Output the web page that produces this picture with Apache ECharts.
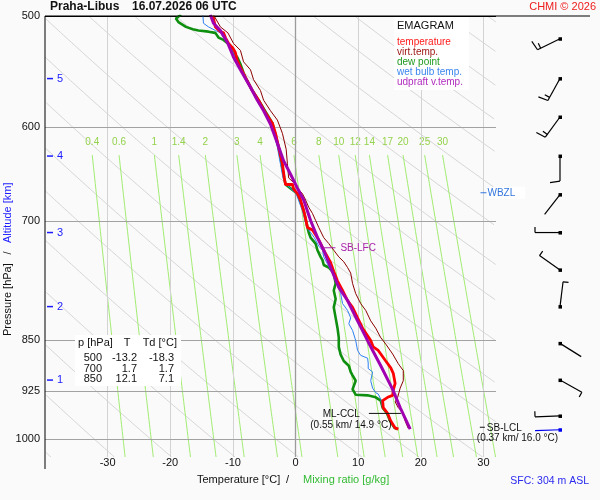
<!DOCTYPE html>
<html lang="en">
<head>
<meta charset="UTF-8">
<title>Emagram Praha-Libus</title>
<script src="https://cdn.jsdelivr.net/npm/echarts@6.0.0/dist/echarts.min.js"></script>
<style>
  body { margin: 0; padding: 0; background: #fafafa; }
  #emagram { width: 600px; height: 500px; }
</style>
</head>
<body>
<div id="emagram"></div>
<script>
// sounding: pressure [hPa] and temperature [°C]
var tempP = [500, 502, 509, 513, 514, 518, 523, 527, 531, 538, 544, 553, 565, 574, 586, 596, 606, 620, 637, 652,
             659, 659, 664, 669, 676, 688, 697, 707, 710, 719, 726, 734, 742, 749, 760, 772, 784, 797, 806, 820,
             834, 851, 860, 865, 880, 890, 898, 913, 923, 931, 934, 939, 950, 959, 971, 982, 984];
var tempT = [-13.2, -13.1, -12.8, -12.0, -11.5, -11.2, -10.7, -10.0, -9.6, -9.3, -8.8, -8.0, -6.9, -5.9, -4.8, -3.7, -3.2, -2.7, -2.1, -1.8,
             -1.6, -0.5, -0.3, 0.3, 0.8, 1.3, 1.6, 1.9, 2.7, 3.5, 4.0, 4.5, 5.1, 5.6, 6.1, 6.7, 7.5, 8.3, 9.1, 9.9,
             10.7, 12.0, 12.4, 13.2, 14.4, 15.2, 15.6, 15.9, 15.6, 15.5, 14.7, 13.9, 14.0, 14.7, 15.2, 15.9, 16.4];

var dewP = [499, 502, 505, 509, 511, 512, 513, 514, 518, 520, 523, 526, 531, 535, 541, 549, 553, 565, 574, 596,
            620, 652, 659, 669, 688, 697, 707, 713, 719, 726, 734, 742, 746, 752, 755, 762, 775, 784, 795, 806,
            820, 834, 847, 860, 871, 880, 887, 896, 901, 909, 922, 930, 931, 934, 939, 950, 959, 971, 982, 984];
var dewT = [-18.3, -19.1, -18.7, -17.5, -16.4, -15.5, -13.9, -12.8, -12.3, -11.5, -10.8, -10.4, -9.9, -9.3, -8.8, -8.3, -8.0, -6.9, -5.9, -3.7,
            -2.7, -1.8, -1.6, 0.3, 1.3, 1.6, 1.9, 2.1, 2.4, 3.2, 3.5, 4.0, 4.3, 4.5, 5.3, 6.1, 6.4, 6.1, 6.4, 6.1,
            6.4, 6.7, 6.9, 6.9, 7.2, 7.7, 8.5, 8.8, 9.1, 9.6, 9.1, 9.6, 11.5, 12.8, 13.6, 13.9, 14.6, 15.1, 15.8, 16.2];

var wetP = [499, 506, 509, 512, 514, 518, 530, 553, 575, 596, 620, 652, 658, 669, 688, 707, 719, 729, 734, 742,
            758, 771, 780, 788, 801, 810, 820, 828, 837, 851, 865, 872, 876, 883, 891, 896, 909, 920, 927, 929,
            937, 950, 959, 971, 982, 984];
var wetT = [-14.8, -14.7, -13.9, -12.8, -12.0, -11.5, -10.0, -8.2, -6.1, -3.9, -2.9, -2.0, -1.6, 0.1, 1.1, 1.8, 3.0, 3.7, 4.3, 4.5,
            5.6, 6.4, 6.9, 7.2, 7.5, 8.3, 8.8, 8.5, 9.1, 9.6, 9.9, 10.4, 11.5, 11.6, 11.6, 12.3, 12.0, 12.3, 12.8, 13.2,
            13.6, 13.9, 14.6, 15.1, 15.8, 16.2];

var virtP = [499, 509, 514, 523, 529, 539, 546, 555, 565, 574, 584, 593, 606, 622, 637, 652, 657, 663, 669, 676,
             684, 691, 699, 707, 719, 726, 734, 742, 748, 755, 762, 775, 788, 801, 810, 824, 834, 847, 856, 870,
             884, 894, 909, 920, 934, 941, 950, 957, 971, 983];
var virtT = [-13.1, -12.0, -10.8, -9.9, -8.8, -8.3, -7.2, -6.7, -5.6, -5.1, -4.0, -2.9, -2.1, -1.5, -1.3, -1.1, -0.3, 0.3, 1.1, 1.6,
             2.1, 2.7, 3.2, 3.7, 4.5, 5.3, 6.1, 6.9, 7.7, 8.3, 8.8, 9.1, 9.6, 10.4, 11.2, 12.0, 12.8, 13.6, 14.4, 15.5,
             16.4, 17.2, 17.2, 16.7, 16.3, 15.9, 16.4, 17.1, 17.5, 18.0];

var updP = [499, 506, 512, 523, 535, 546, 562, 574, 584, 597, 616, 634, 648, 663, 676, 699, 719, 734, 755, 780,
            797, 824, 853, 887, 922, 950, 984];
var updT = [-13.6, -13.1, -12.0, -10.8, -9.9, -8.8, -7.2, -6.1, -5.1, -4.0, -2.9, -1.9, -0.8, 0.3, 1.3, 2.4, 3.5, 4.5, 5.6, 6.9,
            8.3, 9.9, 11.6, 13.6, 15.5, 16.7, 18.3];

// wind every 0.5 km, last one is the surface
var barbP   = [519, 554, 590, 629, 670, 713, 758, 805, 855, 908, 963, 985];
var barbDir = [244, 209, 216, 180, 218, 270, 305, 7, 122, 119, 268, 268];
var barbSpd = [15, 15, 15, 10, 3, 5, 5, 5, 3, 5, 5, 3];

// altitude marks on the left
var altKm = [1, 2, 3, 4, 5];
var altP  = [908, 805, 713, 629, 554];

// levels marked on the diagram
var annText = ['SB-LFC', 'WBZL', 'ML-CCL', 'SB-LCL'];
var annSub  = ['', '', '(0.55 km/ 14.9 °C)', '(0.37 km/ 16.0 °C)'];
var annT    = [5.4, 30.0, 14.9, 29.9];
var annP    = [731, 668, 959, 981];

// table of standard levels
var tabP  = [500, 700, 850];
var tabT  = [-13.2, 1.7, 12.1];
var tabTd = [-18.3, 1.7, 7.1];

// diagram furniture
var pLevels  = [500, 600, 700, 850, 925, 1000];
var isoT     = [-30, -20, -10, 0, 10, 20, 30];
var xTicks   = [-30, -20, -10, 0, 10, 20, 30];
var mixW     = [0.4, 0.6, 1, 1.4, 2, 3, 4, 6, 8, 10, 12, 14, 17, 20, 25, 30];
var adiabatA = [231, 241, 250, 260, 270, 280, 289, 299, 309, 318, 328, 338, 347, 357, 367, 377, 386, 396, 406, 415];

var FONT = '"Liberation Sans", Arial, sans-serif';
var T_MIN = -40, T_MAX = 32, P_TOP = 500, P_BOT = 1030;
var KAPPA = 0.45;          // grey adiabats as drawn on this chart
var MIX_TOP = 628, MIX_LABEL_P = 615;

function pairs(ps, ts) {
  return ps.map(function (p, i) { return [ts[i], p]; });
}

// dew point of a given mixing ratio (g/kg) at pressure p
function mixTd(w, p) {
  var e = w * p / (622 + w);
  var l = Math.log(e / 6.112);
  return 243.5 * l / (17.67 - l);
}

function profile(name, ps, ts, color, width, z) {
  return {
    name: name, type: 'line', data: pairs(ps, ts), symbol: 'none', z: z,
    silent: true, lineStyle: { color: color, width: width }
  };
}

function renderAdiabat(params, api) {
  var A = adiabatA[params.dataIndex];
  var pts = [];
  var lo = Math.log(P_TOP), hi = Math.log(P_BOT);
  for (var lp = lo; lp <= hi + 1e-9; lp += (hi - lo) / 300) {
    var p = Math.exp(lp);
    var t = A * Math.pow(p / 1000, KAPPA) - 273.15;
    if (t >= T_MIN && t <= T_MAX) pts.push(api.coord([t, p]));
  }
  if (pts.length < 2) return null;
  return { type: 'polyline', shape: { points: pts }, style: { stroke: '#d5d5d5', lineWidth: 1, fill: 'none' } };
}

function renderMix(params, api) {
  var w = mixW[params.dataIndex];
  var pts = [];
  for (var p = MIX_TOP; p < P_BOT; p += 6) pts.push(api.coord([mixTd(w, p), p]));
  pts.push(api.coord([mixTd(w, P_BOT), P_BOT]));
  var lab = api.coord([mixTd(w, MIX_TOP), MIX_LABEL_P]);
  return {
    type: 'group', children: [
      { type: 'polyline', shape: { points: pts }, style: { stroke: '#a2ec72', lineWidth: 1, fill: 'none' } },
      { type: 'text', x: lab[0], y: lab[1], style: { text: String(w), fill: '#94d24c', font: '10px ' + FONT, align: 'center', verticalAlign: 'middle' } }
    ]
  };
}

function renderAlt(params, api) {
  var i = params.dataIndex;
  var c = api.coord([T_MIN, altP[i]]);
  return {
    type: 'group', children: [
      { type: 'line', shape: { x1: c[0] + 2, y1: c[1], x2: c[0] + 8, y2: c[1] }, style: { stroke: '#1c1cff', lineWidth: 1.5 } },
      { type: 'text', x: c[0] + 12, y: c[1], style: { text: String(altKm[i]), fill: '#1c1cff', font: '11px ' + FONT, verticalAlign: 'middle' } }
    ]
  };
}

var annLook = {
  'SB-LFC': { color: '#aa22aa', from: -6, to: 6, dx: 11, dy: 0 },
  'WBZL':   { color: '#3377dd', from: -3, to: 3, dx: 4, dy: 0, box: true },
  'ML-CCL': { color: '#111', from: -20, to: 12, dx: -29, dy: 1, align: 'right', subDx: -38, subDy: 12, subAlign: 'center' },
  'SB-LCL': { color: '#111', from: -3, to: 2, dx: 4, dy: 1, subDx: -6, subDy: 11 }
};

function renderAnn(params, api) {
  var i = params.dataIndex;
  var s = annLook[annText[i]];
  var c = api.coord([annT[i], annP[i]]);
  var kids = [
    { type: 'line', shape: { x1: c[0] + s.from, y1: c[1], x2: c[0] + s.to, y2: c[1] }, style: { stroke: s.color, lineWidth: 1 } },
    { type: 'text', x: c[0] + s.dx, y: c[1] + s.dy, style: {
        text: annText[i], fill: s.color, font: '10px ' + FONT, align: s.align || 'left', verticalAlign: 'middle',
        backgroundColor: s.box ? '#fff' : null, padding: s.box ? [1, 10, 1, 0] : 0 } }
  ];
  if (annSub[i]) {
    kids.push({ type: 'text', x: c[0] + s.subDx, y: c[1] + s.subDy, style: {
      text: annSub[i], fill: s.color, font: '10px ' + FONT, align: s.subAlign || 'left', verticalAlign: 'middle' } });
  }
  return { type: 'group', children: kids };
}

function renderBarb(params, api) {
  var i = params.dataIndex;
  var c = api.coord([0, barbP[i]]);
  var col = i === barbP.length - 1 ? '#0000ee' : '#000';
  var a = barbDir[i] * Math.PI / 180;
  var ux = Math.sin(a), uy = -Math.cos(a);   // shaft points where the wind comes from
  var nx = -uy, ny = ux;                      // barbs on the clockwise side
  var L = 25;
  var kids = [{ type: 'line', shape: { x1: c[0], y1: c[1], x2: c[0] + ux * L, y2: c[1] + uy * L }, style: { stroke: col, lineWidth: 1.2 } }];
  var full = Math.floor(barbSpd[i] / 10), half = barbSpd[i] % 10 >= 5;
  var pos = L;
  for (var k = 0; k < full; k++) {
    var bx = c[0] + ux * pos, by = c[1] + uy * pos;
    kids.push({ type: 'line', shape: { x1: bx, y1: by, x2: bx + nx * 10 + ux * 1.5, y2: by + ny * 10 + uy * 1.5 }, style: { stroke: col, lineWidth: 1.2 } });
    pos -= 3.5;
  }
  if (half) {
    var hx = c[0] + ux * pos, hy = c[1] + uy * pos;
    kids.push({ type: 'line', shape: { x1: hx, y1: hy, x2: hx + nx * 5.5, y2: hy + ny * 5.5 }, style: { stroke: col, lineWidth: 1.2 } });
  }
  kids.push({ type: 'rect', shape: { x: c[0] - 1.5, y: c[1] - 1.5, width: 3.5, height: 3.5 }, style: { fill: col } });
  return { type: 'group', children: kids };
}

function txt(x, y, text, color, size, extra) {
  var st = { text: text, fill: color, font: size + 'px ' + FONT, verticalAlign: 'middle' };
  for (var k in extra) st[k] = extra[k];
  return { type: 'text', z: 60, x: x, y: y, style: st };
}

var graphics = [
  { type: 'line', z: 60, shape: { x1: 45, y1: 16, x2: 590, y2: 16 }, style: { stroke: '#000', lineWidth: 1 } },
  { type: 'line', z: 60, shape: { x1: 45, y1: 16, x2: 45, y2: 469 }, style: { stroke: '#000', lineWidth: 1 } },
  txt(50, 7, 'Praha-Libus', '#111', 'bold 12'),
  txt(132, 7, '16.07.2026 06 UTC', '#111', 'bold 12'),
  txt(596, 7, 'CHMI © 2026', '#ee1c1c', 11, { align: 'right' }),
  { type: 'rect', z: 55, shape: { x: 394, y: 17, width: 75, height: 73 }, style: { fill: '#fff' } },
  txt(397, 26, 'EMAGRAM', '#111', 11),
  txt(397, 42, 'temperature', '#ff1a1a', 10),
  txt(397, 52, 'virt.temp.', '#a01818', 10),
  txt(397, 62, 'dew point', '#1f9a1f', 10),
  txt(397, 72, 'wet bulb temp.', '#3a86ee', 10),
  txt(397, 82, 'udpraft v.temp.', '#b02cbe', 10),
  { type: 'rect', z: 55, shape: { x: 75, y: 335, width: 106, height: 51 }, style: { fill: '#fff' } },
  txt(78, 343, 'p [hPa]', '#111', 11),
  txt(127, 343, 'T', '#111', 11, { align: 'center' }),
  txt(177, 343, 'Td [°C]', '#111', 11, { align: 'right' }),
  txt(8, 336, 'Pressure [hPa]', '#111', 11, { align: 'left' }),
  txt(197, 480, 'Temperature [°C]', '#111', 11),
  txt(286, 480, '/', '#111', 11),
  txt(303, 480, 'Mixing ratio [g/kg]', '#33bb33', 11),
  txt(589, 481, 'SFC: 304 m ASL', '#2a2aee', 10.5, { align: 'right' })
];
graphics[16].rotation = Math.PI / 2;
graphics.push(Object.assign(txt(8, 253, '/', '#111', 11, { align: 'center' }), { rotation: Math.PI / 2 }));
graphics.push(Object.assign(txt(8, 243, 'Altitude [km]', '#1c1cff', 11, { align: 'left' }), { rotation: Math.PI / 2 }));
tabP.forEach(function (p, i) {
  var y = 358 + i * 10.5;
  graphics.push(txt(102, y, String(p), '#111', 11, { align: 'right' }));
  graphics.push(txt(137, y, tabT[i].toFixed(1), '#111', 11, { align: 'right' }));
  graphics.push(txt(174, y, tabTd[i].toFixed(1), '#111', 11, { align: 'right' }));
});

var chart = echarts.init(document.getElementById('emagram'));

var option = {
  backgroundColor: '#fafafa',
  animation: false,
  textStyle: { fontFamily: FONT },
  grid: [
    { left: 45, top: 16, width: 451, height: 441 },
    { left: 520, top: 16, width: 80, height: 441 }
  ],
  xAxis: [
    {
      gridIndex: 0, type: 'value', min: T_MIN, max: T_MAX, interval: 10,
      axisLine: { show: false }, axisTick: { show: false }, splitLine: { show: false },
      axisLabel: {
        interval: 0, margin: 0, fontSize: 11, color: '#111', fontFamily: FONT,
        formatter: function (v) { return xTicks.indexOf(v) >= 0 ? String(v) : ''; }
      }
    },
    { gridIndex: 1, type: 'value', min: -1, max: 1, show: false }
  ],
  yAxis: [
    {
      gridIndex: 0, type: 'log', logBase: 10, min: P_TOP, max: P_BOT, inverse: true,
      axisLine: { show: false }, axisTick: { show: false }, axisLabel: { show: false },
      splitLine: { show: false }, minorTick: { show: false }, minorSplitLine: { show: false }
    },
    { gridIndex: 1, type: 'log', logBase: 10, min: P_TOP, max: P_BOT, inverse: true, show: false }
  ],
  graphic: graphics,
  series: [
    {
      name: 'isotherms', type: 'line', data: [], z: 1, silent: true,
      markLine: {
        silent: true, symbol: ['none', 'none'], animation: false, label: { show: false },
        data: isoT.map(function (t) {
          return { xAxis: t, lineStyle: { color: t === 0 ? '#9c9c9c' : '#d3d3d3', width: t === 0 ? 1.3 : 1, type: 'solid' } };
        })
      }
    },
    {
      type: 'custom', name: 'adiabats', z: 1, silent: true, clip: true,
      data: adiabatA.map(function (a) { return [0, 700, a]; }),
      renderItem: renderAdiabat
    },
    {
      type: 'custom', name: 'mixing ratio', z: 2, silent: true, clip: true,
      data: mixW.map(function (w) { return [0, 700, w]; }),
      renderItem: renderMix
    },
    {
      name: 'isobars', type: 'line', data: [], z: 3, silent: true,
      markLine: {
        silent: true, symbol: ['none', 'none'], animation: false,
        label: { show: true, position: 'start', formatter: '{b}', distance: 5, color: '#111', fontSize: 11, fontFamily: FONT },
        data: pLevels.map(function (p) {
          return { yAxis: p, name: String(p), lineStyle: { color: p === P_TOP ? '#000' : '#a2a2a2', width: 1, type: 'solid' } };
        })
      }
    },
    {
      type: 'custom', name: 'altitude', z: 4, silent: true,
      data: altP.map(function (p) { return [T_MIN, p]; }),
      renderItem: renderAlt
    },
    profile('dew point', dewP, dewT, '#0f8f0f', 2.6, 5),
    profile('wet bulb temp.', wetP, wetT, '#2f80f0', 1, 6),
    profile('temperature', tempP, tempT, '#ff0000', 2.8, 7),
    profile('virt.temp.', virtP, virtT, '#8c0000', 1, 8),
    profile('udpraft v.temp.', updP, updT, '#a000b0', 3, 9),
    {
      type: 'custom', name: 'levels', z: 10, silent: true,
      data: annT.map(function (t, i) { return [t, annP[i]]; }),
      renderItem: renderAnn
    },
    {
      type: 'custom', name: 'wind', xAxisIndex: 1, yAxisIndex: 1, z: 10, silent: true,
      data: barbP.map(function (p) { return [0, p]; }),
      renderItem: renderBarb
    }
  ]
};

chart.setOption(option);
</script>
</body>
</html>
